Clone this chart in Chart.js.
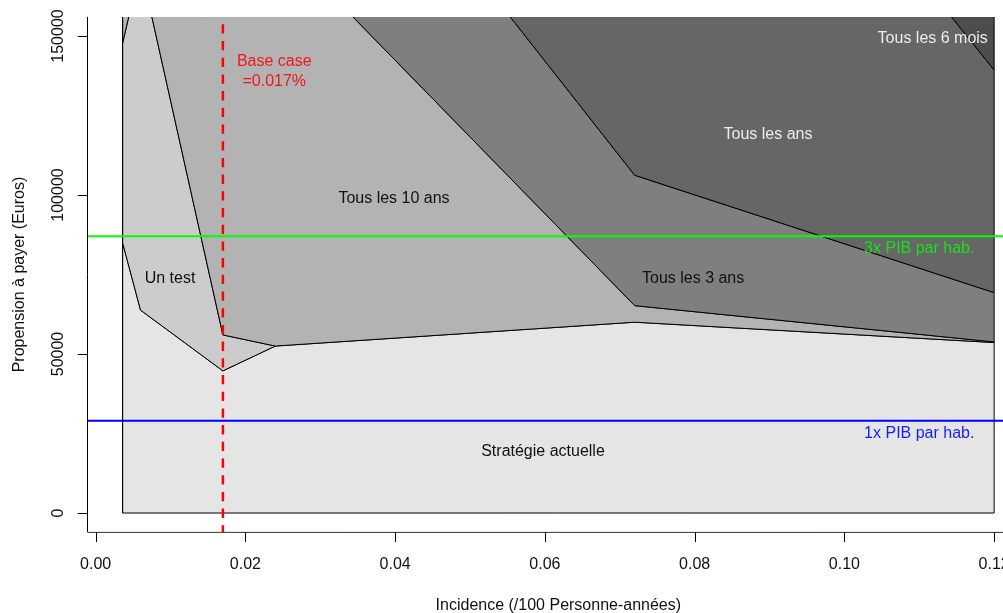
<!DOCTYPE html>
<html>
<head>
<meta charset="utf-8">
<script src="https://cdn.jsdelivr.net/npm/chart.js"></script>
<style>
  html, body { margin: 0; padding: 0; background: #fff; overflow: hidden; }
  #wrap { width: 1003px; height: 613px; overflow: hidden; position: relative; }
  canvas { display: block; }
</style>
</head>
<body>
<div id="wrap"><canvas id="c" width="1060" height="613"></canvas></div>
<script>
// ---------- Data ----------
const incidence      = [0.0036, 0.006, 0.017, 0.024, 0.072, 0.12];   // x points
const seuilActuelle  = [85000, 63800, 44700, 52500, 60000, 53600];   // upper edge of "Stratégie actuelle"
const seuilUnTest    = [147700, 172000, 56000, 52500];               // upper edge of "Un test" (x = incidence[0..3])
const seuil10ans     = [181000, 65200, 53800];                       // upper edge of "Tous les 10 ans" (x = incidence[3..5])
const seuil3ans      = [250000, 106200, 69300];                      // upper edge of "Tous les 3 ans" (x = incidence[3..5])
const seuil1an       = [280000, 139300];                             // upper edge of "Tous les ans" (x = incidence[4..5])
const plafond        = 400000;                                       // polygon ceiling (outside view)

const pib3x = 87000;      // 3x PIB par hab.
const pib1x = 29000;      // 1x PIB par hab.
const baseCase = 0.017;   // base case incidence

const xTicks = [0, 0.02, 0.04, 0.06, 0.08, 0.10, 0.12];
const xTickLabels = ['0.00', '0.02', '0.04', '0.06', '0.08', '0.10', '0.12'];
const yTicks = [0, 50000, 100000, 150000];
const yTickLabels = ['0', '50000', '100000', '150000'];

const xTitle = 'Incidence (/100 Personne-années)';
const yTitle = 'Propension à payer (Euros)';

// ---------- Polygons built from the arrays ----------
const I = incidence;
const P = (x, y) => ({x, y});
const close = pts => pts.concat([pts[0]]);

const polyActuelle = close([
  P(I[0], 0), P(I[5], 0),
  P(I[5], seuilActuelle[5]), P(I[4], seuilActuelle[4]), P(I[3], seuilActuelle[3]),
  P(I[2], seuilActuelle[2]), P(I[1], seuilActuelle[1]), P(I[0], seuilActuelle[0])
]);
const polyUnTest = close([
  P(I[0], seuilActuelle[0]), P(I[1], seuilActuelle[1]), P(I[2], seuilActuelle[2]), P(I[3], seuilActuelle[3]),
  P(I[3], seuilUnTest[3]), P(I[2], seuilUnTest[2]), P(I[1], seuilUnTest[1]), P(I[0], seuilUnTest[0])
]);
const poly10ans = close([
  P(I[0], seuilUnTest[0]), P(I[1], seuilUnTest[1]), P(I[2], seuilUnTest[2]),
  P(I[3], seuilActuelle[3]), P(I[4], seuilActuelle[4]), P(I[5], seuilActuelle[5]),
  P(I[5], seuil10ans[2]), P(I[4], seuil10ans[1]), P(I[3], seuil10ans[0]),
  P(I[0], plafond)
]);
const poly3ans = close([
  P(I[3], seuil10ans[0]), P(I[4], seuil10ans[1]), P(I[5], seuil10ans[2]),
  P(I[5], seuil3ans[2]), P(I[4], seuil3ans[1]), P(I[3], seuil3ans[0])
]);
const poly1an = close([
  P(I[3], seuil3ans[0]), P(I[4], seuil3ans[1]), P(I[5], seuil3ans[2]),
  P(I[5], seuil1an[1]), P(I[4], seuil1an[0]), P(I[3], plafond)
]);
const poly6mois = close([
  P(I[4], seuil1an[0]), P(I[5], seuil1an[1]), P(I[5], plafond), P(I[3], plafond)
]);

// axis limits (R-style 4% extension)
const xMin = -0.001056, xMax = 0.124656;
const yMin = -6000, yMax = 156000;

function polyDS(label, data, color, order) {
  return {
    label, data, showLine: true, fill: 'shape',
    backgroundColor: color, borderColor: '#000', borderWidth: 1,
    pointRadius: 0, pointHoverRadius: 0, tension: 0, order
  };
}

const FONT = '"Liberation Sans", Arial, Helvetica, sans-serif';
const TEXT_DY = 2; // vertical nudge for canvas text centring

// region labels: [text, x, y, color]
const regionLabels = [
  ['Tous les 6 mois', 0.1118, 149700, '#ececec'],
  ['Tous les ans', 0.0898, 119500, '#ececec'],
  ['Tous les 10 ans', 0.03985, 99400, '#111'],
  ['Un test', 0.00994, 74200, '#111'],
  ['Tous les 3 ans', 0.0798, 74200, '#111'],
  ['Stratégie actuelle', 0.05975, 19800, '#111'],
  ['3x PIB par hab.', 0.1100, 83700, '#19e019'],
  ['1x PIB par hab.', 0.1100, 25600, '#1a1aff'],
  ['Base case', 0.02386, 142500, '#f01818'],
  ['=0.017%', 0.02386, 136400, '#f01818']
];

const rPlugin = {
  id: 'rStyle',
  afterDatasetsDraw(chart) {
    const {ctx, scales: {x, y}} = chart;
    ctx.save();
    ctx.font = '16px ' + FONT;
    ctx.textAlign = 'center';
    ctx.textBaseline = 'middle';
    regionLabels.forEach(([t, vx, vy, c]) => {
      ctx.fillStyle = c;
      ctx.fillText(t, x.getPixelForValue(vx), y.getPixelForValue(vy) + TEXT_DY);
    });
    ctx.restore();
  },
  afterDraw(chart) {
    const {ctx, chartArea: a, scales: {x, y}} = chart;
    ctx.save();
    // box (left + bottom)
    ctx.strokeStyle = '#000';
    ctx.lineWidth = 1;
    const lx = Math.floor(a.left) + 0.5;
    ctx.beginPath();
    ctx.moveTo(lx, a.top);
    ctx.lineTo(lx, a.bottom);
    ctx.stroke();
    ctx.strokeStyle = '#333';
    ctx.beginPath();
    ctx.moveTo(lx, a.bottom + 0.3);
    ctx.lineTo(a.right, a.bottom + 0.3);
    ctx.stroke();

    ctx.fillStyle = '#111';
    ctx.font = '16px ' + FONT;
    ctx.textAlign = 'center';
    ctx.textBaseline = 'middle';
    ctx.strokeStyle = '#000';
    // x ticks
    xTicks.forEach((v, i) => {
      const px = Math.round(x.getPixelForValue(v)) + 0.5;
      ctx.beginPath();
      ctx.moveTo(px, a.bottom);
      ctx.lineTo(px, a.bottom + 10);
      ctx.stroke();
      ctx.fillText(xTickLabels[i], x.getPixelForValue(v), 564.5);
    });
    // y ticks
    yTicks.forEach((v, i) => {
      const py = Math.round(y.getPixelForValue(v)) + 0.5;
      ctx.beginPath();
      ctx.moveTo(a.left - 10, py);
      ctx.lineTo(a.left, py);
      ctx.stroke();
      ctx.save();
      ctx.translate(59, y.getPixelForValue(v));
      ctx.rotate(-Math.PI / 2);
      ctx.fillText(yTickLabels[i], 0, 0);
      ctx.restore();
    });
    // titles
    ctx.fillText(xTitle, (a.left + a.right) / 2, 605.5);
    ctx.save();
    ctx.translate(20, (a.top + a.bottom) / 2);
    ctx.rotate(-Math.PI / 2);
    ctx.fillText(yTitle, 0, 0);
    ctx.restore();
    ctx.restore();
  }
};

new Chart(document.getElementById('c'), {
  type: 'scatter',
  data: {
    datasets: [
      {
        label: 'Base case', data: [P(baseCase, yMax), P(baseCase, yMin)],
        showLine: true, fill: false, borderColor: '#ff0000', borderWidth: 2.5,
        borderDash: [9.3, 7.4], borderDashOffset: 9.3, borderCapStyle: 'butt',
        pointRadius: 0, order: 0
      },
      {
        label: '3x PIB', data: [P(xMin, pib3x), P(xMax, pib3x)],
        showLine: true, fill: false, borderColor: '#00ff00', borderWidth: 2,
        pointRadius: 0, order: 1
      },
      {
        label: '1x PIB', data: [P(xMin, pib1x), P(xMax, pib1x)],
        showLine: true, fill: false, borderColor: '#0000ff', borderWidth: 2,
        pointRadius: 0, order: 1
      },
      polyDS('Tous les 6 mois', poly6mois, '#4d4d4d', 5),
      polyDS('Tous les ans', poly1an, '#666666', 5),
      polyDS('Tous les 3 ans', poly3ans, '#7f7f7f', 5),
      polyDS('Tous les 10 ans', poly10ans, '#b3b3b3', 5),
      polyDS('Un test', polyUnTest, '#cccccc', 5),
      polyDS('Stratégie actuelle', polyActuelle, '#e5e5e5', 5)
    ]
  },
  options: {
    responsive: false,
    animation: false,
    devicePixelRatio: 1,
    layout: { padding: { left: 87.7, top: 16.9, right: 31, bottom: 80.9 } },
    plugins: { legend: { display: false }, tooltip: { enabled: false } },
    scales: {
      x: { type: 'linear', min: xMin, max: xMax, display: false },
      y: { type: 'linear', min: yMin, max: yMax, display: false }
    }
  },
  plugins: [rPlugin]
});
</script>
</body>
</html>
